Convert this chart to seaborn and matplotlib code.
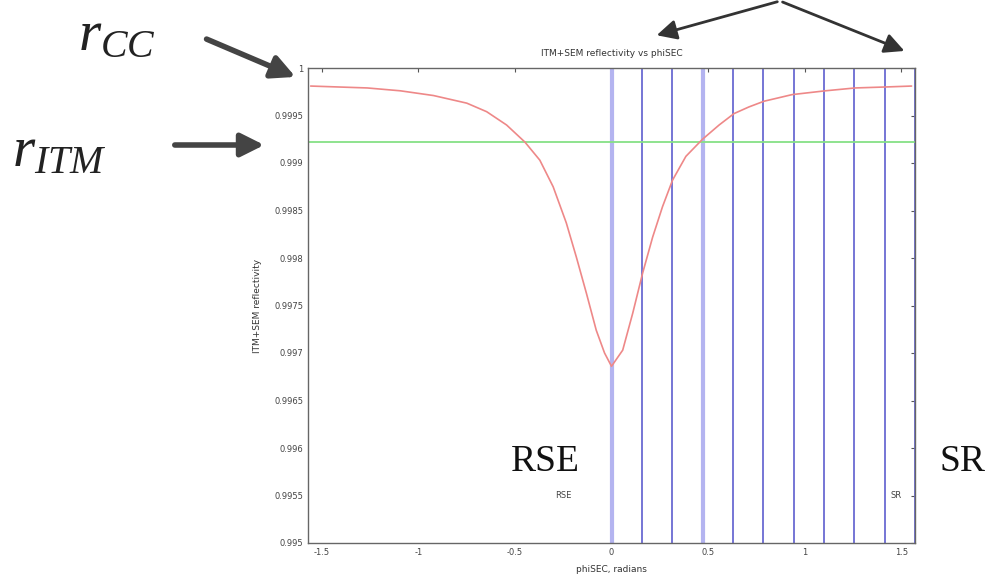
import numpy as np
import pandas as pd
import matplotlib
matplotlib.use("Agg")
import matplotlib.pyplot as plt
import seaborn as sns
from matplotlib.patches import FancyArrowPatch

# ---- data ----
phi = [-1.557, -1.264, -1.093, -0.921, -0.749, -0.646, -0.543, -0.448, -0.371,
       -0.302, -0.234, -0.182, -0.130, -0.079, -0.036, 0.0, 0.058, 0.110, 0.161,
       0.213, 0.264, 0.316, 0.385, 0.471, 0.557, 0.634, 0.711, 0.789, 0.935,
       1.107, 1.261, 1.416, 1.553]
refl = [0.99981, 0.99979, 0.99976, 0.99971, 0.99963, 0.99954, 0.99940, 0.99922,
        0.99903, 0.99875, 0.99837, 0.99801, 0.99763, 0.99724, 0.99700, 0.99686,
        0.99703, 0.99742, 0.99784, 0.99822, 0.99854, 0.99882, 0.99907, 0.99925,
        0.99940, 0.99952, 0.99959, 0.99965, 0.99972, 0.99976, 0.99979, 0.99980,
        0.99981]
r_itm = 0.99922
marker_phases = [0.0, 0.157, 0.314, 0.471, 0.628, 0.785, 0.942, 1.100, 1.257, 1.414, 1.571]
light_markers = [0.0, 0.471]
xticks = [-1.5, -1, -0.5, 0, 0.5, 1, 1.5]
xtick_labels = ["-1.5", "-1", "-0.5", "0", "0.5", "1", "1.5"]
yticks = [0.995, 0.9955, 0.996, 0.9965, 0.997, 0.9975, 0.998, 0.9985, 0.999, 0.9995, 1.0]
ytick_labels = ["0.995", "0.9955", "0.996", "0.9965", "0.997", "0.9975", "0.998",
                "0.9985", "0.999", "0.9995", "1"]

df = pd.DataFrame({"phiSEC": phi, "reflectivity": refl})

sns.set_style("white")
plt.rcParams["font.family"] = ["DejaVu Sans"]
plt.rcParams["mathtext.fontset"] = "custom"
plt.rcParams["mathtext.rm"] = "Liberation Serif"
plt.rcParams["mathtext.it"] = "Liberation Serif:italic"

W, H = 992, 579
fig = plt.figure(figsize=(W / 100, H / 100), dpi=100)
ax = fig.add_axes([308 / W, 1 - 543 / H, 607 / W, 475 / H])

xmin, xmax = -np.pi / 2, np.pi / 2

# blue vertical lines
for p in marker_phases:
    if p in light_markers:
        ax.axvline(p, color="#b4b4f0", lw=3.0, zorder=1)
    else:
        ax.axvline(p, color="#6a6ad2", lw=1.3, zorder=1)

ax.axhline(r_itm, color="#86e086", lw=1.3, zorder=2)
sns.lineplot(data=df, x="phiSEC", y="reflectivity", ax=ax, color="#ee8888",
             lw=1.2, zorder=3)

ax.set_xlim(xmin, xmax)
ax.set_ylim(0.995, 1.0)
ax.set_xticks(xticks)
ax.set_xticklabels(xtick_labels)
ax.set_yticks(yticks)
ax.set_yticklabels(ytick_labels)
ax.tick_params(direction="in", length=3, width=0.8, labelsize=6, colors="#555555",
               top=True, right=True, labelcolor="#444444")
for s in ax.spines.values():
    s.set_color("#666666")
    s.set_linewidth(1.0)
ax.set_title("ITM+SEM reflectivity vs phiSEC", fontsize=6.5, color="#333333", pad=9)
ax.set_xlabel("phiSEC, radians", fontsize=6.5, color="#333333", labelpad=6)
ax.set_ylabel("ITM+SEM reflectivity", fontsize=6.5, color="#333333", labelpad=9)

ax.text(-0.247, 0.995505, "RSE", fontsize=6, color="#444444", ha="center", va="center")
ax.text(1.474, 0.995505, "SR", fontsize=6, color="#444444", ha="center", va="center")

# slide annotations (figure pixel coords, measured from top-left)
def fp(x, y):
    return (x / W, 1 - y / H)

fig.text(*fp(78, 50), r"$r_{CC}$", fontsize=41, color="#222222", ha="left", va="baseline")
fig.text(*fp(12, 166), r"$r_{ITM}$", fontsize=41, color="#222222", ha="left", va="baseline")
fig.text(*fp(545, 471), "RSE", fontsize=27, family="Liberation Serif", color="#111111",
         ha="center", va="baseline")
fig.text(*fp(962, 471), "SR", fontsize=27, family="Liberation Serif", color="#111111",
         ha="center", va="baseline")

def arrow(x0, y0, x1, y1):
    a = FancyArrowPatch(fp(x0, y0), fp(x1, y1), transform=fig.transFigure,
                        arrowstyle="-|>,head_length=14,head_width=7",
                        mutation_scale=1, lw=4, color="#444444")
    fig.patches.append(a)

def thin_arrow(x0, y0, x1, y1):
    a = FancyArrowPatch(fp(x0, y0), fp(x1, y1), transform=fig.transFigure,
                        arrowstyle="-|>,head_length=12,head_width=6",
                        mutation_scale=1, lw=2, color="#333333")
    fig.patches.append(a)

arrow(204, 38, 298, 78)
arrow(172, 145, 267, 145)
thin_arrow(780, 1, 654, 36)
thin_arrow(780, 1, 907, 52)

fig.savefig("out.png", dpi=100, facecolor="white")
